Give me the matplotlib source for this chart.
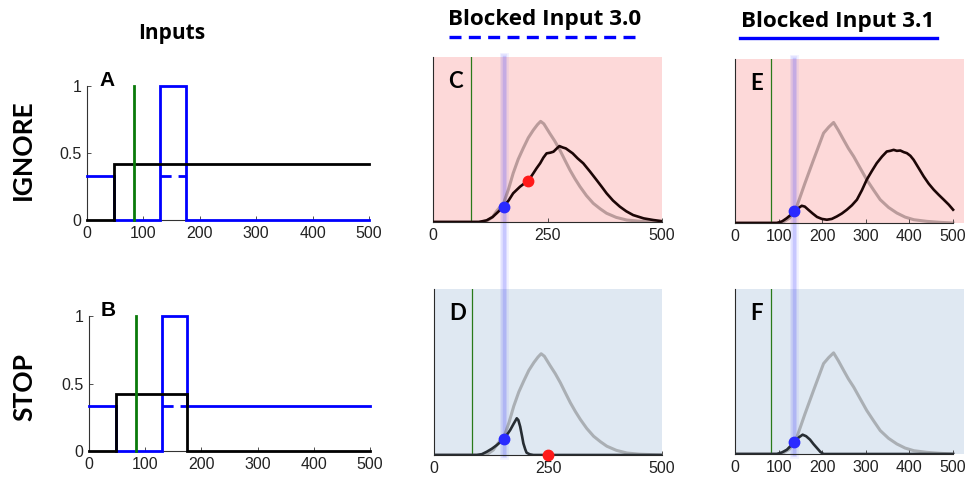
import matplotlib
matplotlib.use("Agg")
import matplotlib.pyplot as plt
from matplotlib.lines import Line2D
from matplotlib.transforms import blended_transform_factory

plt.rcParams["font.family"] = ["Liberation Sans", "DejaVu Sans"]

# ---------------- data ----------------
# input traces (step functions: vertices of each step)
ignore_blue_x = [0, 48, 48, 130, 130, 175, 175, 500]
ignore_blue_y = [0.33, 0.33, 0, 0, 1, 1, 0, 0]
ignore_black_x = [0, 48, 48, 500]
ignore_black_y = [0, 0, 0.42, 0.42]

stop_blue_x = [0, 48, 48, 130, 130, 175, 175, 500]
stop_blue_y = [0.33, 0.33, 0, 0, 1, 1, 0.33, 0.33]
stop_black_x = [0, 48, 48, 175, 175, 500]
stop_black_y = [0, 0, 0.42, 0.42, 0, 0]

blocked_x = [130, 175]          # blocked input (dashed) segment
blocked_y = [0.33, 0.33]
go_time = 83                    # green marker
input_ticks_x = [0, 100, 200, 300, 400, 500]
input_ticks_y = [0, 0.5, 1]

# activity for "Blocked Input 3.0"
gray30_x = [0, 100, 117, 130, 140, 154, 165, 175, 186, 197, 208, 219, 228, 235,
            242, 255, 266, 277, 288, 299, 310, 321, 335, 350, 365, 379, 400, 423,
            450, 480, 500]
gray30_y = [0, 0, 0.005, 0.03, 0.07, 0.113, 0.2, 0.295, 0.38, 0.447, 0.51, 0.557,
            0.59, 0.61, 0.595, 0.537, 0.49, 0.436, 0.375, 0.315, 0.262, 0.214, 0.16,
            0.113, 0.08, 0.053, 0.028, 0.012, 0.005, 0.002, 0]
ignore30_x = [0, 100, 117, 130, 139, 154, 165, 175, 190, 200, 207, 213, 219, 226,
              234, 241, 248, 256, 263, 270, 276, 283, 290, 297, 305, 316, 328, 343,
              357, 368, 379, 393, 408, 422, 437, 460, 481, 500]
ignore30_y = [0, 0, 0.01, 0.03, 0.053, 0.093, 0.13, 0.174, 0.214, 0.235, 0.25, 0.27,
              0.295, 0.325, 0.356, 0.39, 0.416, 0.42, 0.426, 0.445, 0.46, 0.452, 0.446,
              0.432, 0.416, 0.385, 0.356, 0.305, 0.255, 0.215, 0.174, 0.13, 0.093,
              0.065, 0.042, 0.022, 0.012, 0.005]
stop30_x = [0, 94, 105, 116, 127, 138, 145, 152, 160, 167, 174, 181.5, 185, 189,
            193, 196, 200, 203, 210, 218, 500]
stop30_y = [0, 0, 0.005, 0.02, 0.038, 0.06, 0.077, 0.097, 0.122, 0.15, 0.185, 0.221,
            0.21, 0.171, 0.115, 0.07, 0.035, 0.014, 0.004, 0, 0]

# activity for "Blocked Input 3.1"
gray31_x = [0, 95, 110, 125, 141.6, 160, 180, 192, 203, 215, 226, 237, 249, 260,
            272, 287, 302, 318, 333, 352, 371, 390, 410, 440, 470, 500]
gray31_y = [0, 0, 0.005, 0.03, 0.10, 0.24, 0.385, 0.47, 0.548, 0.585, 0.613, 0.565,
            0.507, 0.455, 0.406, 0.335, 0.264, 0.2, 0.142, 0.095, 0.061, 0.036, 0.02,
            0.01, 0.004, 0]
ignore31_x = [0, 96, 108, 119, 128, 138, 146, 153, 160, 168, 178, 188, 199, 210.6,
              222, 233.5, 245, 256.5, 268, 279.5, 291, 302, 314, 325, 337, 348, 356,
              363.7, 371, 379, 387, 394, 402, 409.6, 421, 432.6, 444, 455.6, 467,
              478.6, 490, 500]
ignore31_y = [0, 0, 0.01, 0.03, 0.05, 0.071, 0.092, 0.105, 0.1, 0.081, 0.058, 0.037,
              0.025, 0.02, 0.025, 0.04, 0.058, 0.081, 0.108, 0.142, 0.2, 0.264, 0.318,
              0.365, 0.405, 0.436, 0.44, 0.446, 0.44, 0.442, 0.432, 0.426, 0.41,
              0.385, 0.335, 0.284, 0.24, 0.203, 0.172, 0.142, 0.112, 0.081]
stop31_x = [0, 96, 108, 119, 128, 138, 146, 155, 163, 172, 180, 188, 196, 203, 500]
stop31_y = [0, 0, 0.01, 0.026, 0.05, 0.077, 0.1, 0.117, 0.108, 0.087, 0.06, 0.036,
            0.012, 0, 0]

block_time30 = 154
block_time31 = 136
blue_dot30_ignore = 0.093
blue_dot30_stop = 0.097
blue_dot31_ignore = 0.071
blue_dot31_stop = 0.075
red_dot30_ignore = (207, 0.25)
red_dot30_stop = (250, 0.0)

ticks30 = [0, 250, 500]
ticks31 = [0, 100, 200, 300, 400, 500]

# ---------------- style ----------------
W, H = 966, 479
PINK = "#fdd9d9"
LBLUE = "#dfe8f2"
BLUE = "#0000ff"
GREEN = "#0a7a0a"
TICKSIZE = 11.5
HEADFONT = ["Open Sans", "DejaVu Sans"]
ROWFONT = ["Lato", "DejaVu Sans"]
BAND = ((6.5, 0.06), (4.5, 0.09), (2.5, 0.16))   # (linewidth, alpha) glow layers

fig = plt.figure(figsize=(W / 100, H / 100), dpi=100)


def px_axes(left, top, right, bottom):
    return fig.add_axes([left / W, 1 - bottom / H, (right - left) / W, (bottom - top) / H])


def style_axes(ax, spine_color="#333333"):
    for s in ("top", "right"):
        ax.spines[s].set_visible(False)
    for s in ("left", "bottom"):
        ax.spines[s].set_color(spine_color)
        ax.spines[s].set_linewidth(0.8)
    ax.tick_params(direction="in", length=3, width=0.6, colors="#333333",
                   labelcolor="#222222", labelsize=TICKSIZE, pad=4)


# ---------------- input panels ----------------
def input_panel(ax, bx, by, kx, ky, letter):
    ax.plot(bx, by, color=BLUE, lw=2.0, solid_joinstyle="miter", clip_on=False, zorder=3)
    ax.plot(blocked_x, blocked_y, color=BLUE, lw=2.0, ls=(0, (4, 2.5)), zorder=3)
    ax.plot(kx, ky, color="black", lw=2.0, solid_joinstyle="miter", clip_on=False, zorder=4)
    ax.plot([go_time, go_time], [0, 1], color=GREEN, lw=2.0, clip_on=False, zorder=5)
    ax.set_xlim(0, 500)
    ax.set_ylim(0, 1)
    ax.set_xticks(input_ticks_x)
    ax.set_yticks(input_ticks_y)
    ax.set_yticklabels(["0", "0.5", "1"])
    style_axes(ax)
    ax.text(0.043, 1.0, letter, transform=ax.transAxes, fontsize=15,
            fontweight="bold", va="baseline", ha="left")


axA = px_axes(87, 86, 369, 220)
input_panel(axA, ignore_blue_x, ignore_blue_y, ignore_black_x, ignore_black_y, "A")
axB = px_axes(89, 316, 370, 451)
input_panel(axB, stop_blue_x, stop_blue_y, stop_black_x, stop_black_y, "B")


# ---------------- activity panels ----------------
def activity_panel(ax, bg, gx, gy, cx, cy, line_color, gray_color, xmax, ticks,
                   band_x, dot_y, letter, red=None):
    ax.set_facecolor(bg)
    ax.plot(gx, gy, color=gray_color, alpha=0.45, lw=2.2, zorder=2)
    ax.plot(cx, cy, color=line_color, lw=1.9, zorder=3)
    ax.plot([go_time, go_time], [0, 1], color="#2a7a1a", lw=0.9, zorder=1.5)
    for lw, a in BAND:
        ax.axvline(band_x, color="#3a3aff", lw=lw, alpha=a, zorder=1.8)
    ax.plot([band_x], [dot_y], "o", color="#2a2aff", ms=7.5, zorder=5)
    if red is not None:
        ax.plot([red[0]], [red[1]], "o", color="#ff1a1a", ms=7.5, zorder=5, clip_on=False)
    ax.set_xlim(0, xmax)
    ax.set_ylim(0, 1)
    ax.set_xticks(ticks)
    ax.set_yticks([])
    style_axes(ax, spine_color="#2a2a2a")
    ax.spines["bottom"].set_bounds(0, 500)
    ax.text(0.065, 0.85, letter, transform=ax.transAxes, fontsize=16,
            fontweight="bold", family=ROWFONT, va="center", ha="left")


axC = px_axes(433, 57, 662, 222)
activity_panel(axC, PINK, gray30_x, gray30_y, ignore30_x, ignore30_y, "#1c0606",
               "#6a5050", 500, ticks30, block_time30, blue_dot30_ignore, "C",
               red_dot30_ignore)
axD = px_axes(434, 289, 662, 455)
activity_panel(axD, LBLUE, gray30_x, gray30_y, stop30_x, stop30_y, "#272d33",
               "#6a6a6a", 500, ticks30, block_time30, blue_dot30_stop, "D",
               red_dot30_stop)
axE = px_axes(735, 59, 964, 223)
activity_panel(axE, PINK, gray31_x, gray31_y, ignore31_x, ignore31_y, "#1c0606",
               "#6a5050", 525, ticks31, block_time31, blue_dot31_ignore, "E")
axF = px_axes(735, 289, 964, 454)
activity_panel(axF, LBLUE, gray31_x, gray31_y, stop31_x, stop31_y, "#272d33",
               "#6a6a6a", 525, ticks31, block_time31, blue_dot31_stop, "F")

# blocked-time band continuing through the gap between the rows
for top_ax, bot_ax, bx in ((axC, axD, block_time30), (axE, axF, block_time31)):
    tr = blended_transform_factory(top_ax.transData, fig.transFigure)
    y_top = top_ax.get_position().y1
    y_bot = bot_ax.get_position().y0
    for lw, a in BAND:
        fig.add_artist(Line2D([bx, bx], [y_bot, y_top], transform=tr, color="#3a3aff",
                              lw=lw, alpha=a, zorder=-1))

# ---------------- titles and row labels ----------------
fig.text(172 / W, 1 - 33 / H, "Inputs", ha="center", va="center", fontsize=15,
         fontweight="bold", family=HEADFONT)
fig.text(545 / W, 1 - 20 / H, "Blocked Input 3.0", ha="center", va="center",
         fontsize=16.2, fontweight="bold", family=HEADFONT)
fig.text(838 / W, 1 - 22 / H, "Blocked Input 3.1", ha="center", va="center",
         fontsize=16.2, fontweight="bold", family=HEADFONT)
fig.add_artist(Line2D([449 / W, 635 / W], [1 - 37 / H, 1 - 37 / H], color=BLUE, lw=2.4,
                      ls=(0, (3.6, 2.2)), transform=fig.transFigure))
fig.add_artist(Line2D([740 / W, 937 / W], [1 - 38 / H, 1 - 38 / H], color=BLUE, lw=2.4,
                      transform=fig.transFigure))

fig.text(23 / W, 1 - 150 / H, "IGNORE", ha="center", va="center", rotation=90,
         fontsize=19, fontweight="bold", family=ROWFONT)
fig.text(24 / W, 1 - 387 / H, "STOP", ha="center", va="center", rotation=90,
         fontsize=19, fontweight="bold", family=ROWFONT)

fig.savefig("out.png", dpi=100)
